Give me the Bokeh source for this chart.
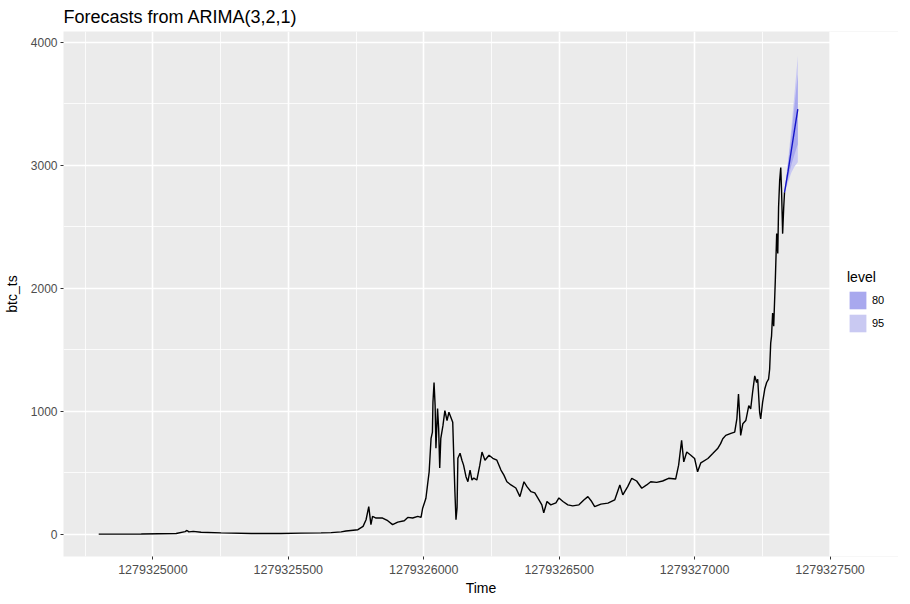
from bokeh.plotting import figure
from bokeh.models import (Range1d, SingleIntervalTicker, FixedTicker, BasicTickFormatter,
                          Legend, LegendItem, ColumnDataSource, BoxAnnotation)
from bokeh.embed import file_html
from bokeh.resources import INLINE

# ---- data ----
START = 1279324800  # ts start (time index of first observation)

hist_day = [0, 157, 286, 319, 326, 333, 349, 378, 452, 563, 673, 747, 821, 858, 895,
            913, 931, 957, 976, 987, 997, 1005, 1011, 1024, 1048, 1067, 1085, 1104,
            1128, 1141, 1159, 1178, 1190, 1196, 1208, 1214, 1220, 1227, 1232, 1234,
            1238, 1242, 1245, 1251, 1255, 1259, 1263, 1271, 1278, 1286, 1293, 1300,
            1307, 1311, 1315, 1319, 1323, 1326, 1334, 1341, 1347, 1356, 1363, 1371,
            1378, 1385, 1396, 1407, 1415, 1426, 1441, 1455, 1470, 1485, 1496, 1507,
            1522, 1540, 1555, 1570, 1581, 1596, 1610, 1621, 1636, 1643, 1655, 1669,
            1688, 1699, 1714, 1732, 1750, 1773, 1791, 1806, 1820, 1831, 1854, 1880,
            1905, 1924, 1935, 1953, 1968, 1986, 2005, 2023, 2038, 2060, 2082, 2104,
            2130, 2141, 2152, 2160, 2171, 2186, 2200, 2211, 2223, 2249, 2267, 2285,
            2296, 2304, 2315, 2334, 2348, 2356, 2362, 2367, 2370, 2378, 2389, 2400,
            2407, 2414, 2422, 2429, 2433, 2440, 2444, 2451, 2459, 2466, 2473, 2477,
            2481, 2484, 2488, 2492, 2498, 2503, 2507, 2510, 2514, 2518, 2521, 2525,
            2529, 2532]
hist_price = [0.06, 0.5, 5, 20, 30, 18, 22, 15, 10, 5, 5, 8, 10, 12, 18,
              25, 30, 36, 63, 117, 224, 77, 144, 131, 131, 109, 77, 98,
              109, 136, 131, 144, 136, 211, 292, 400, 507, 779, 830, 1072,
              1233, 1045, 698, 1021, 860, 537, 779, 884, 1005, 924, 991, 951,
              910, 617, 345, 117, 214, 617, 658, 601, 561, 467, 426, 521,
              440, 456, 440, 561, 668, 601, 642, 617, 601, 521, 480, 426,
              400, 375, 305, 426, 386, 345, 335, 294, 238, 173, 265, 238,
              254, 294, 265, 238, 230, 238, 278, 305, 265, 224, 244, 252,
              278, 400, 319, 386, 454, 432, 373, 400, 426, 421, 432, 454,
              448, 561, 763, 588, 668, 642, 615, 507, 580, 615, 655, 696,
              736, 776, 803, 820, 830, 938, 1139, 938, 803, 897, 924, 1045,
              1018, 1152, 1287, 1233, 1260, 991, 938, 1072, 1180, 1233, 1260, 1341,
              1556, 1610, 1798, 1691, 2068, 2444, 2283, 2659, 2875, 2982, 2794, 2444,
              2659, 2780]

fc_day = [2532, 2545, 2557, 2569, 2581]
fc_mean = [2780, 2950, 3120, 3290, 3456]
fc_lo80 = [2773, 2890, 3000, 3090, 3171]
fc_hi80 = [2787, 3010, 3240, 3490, 3741]
fc_lo95 = [2770, 2860, 2940, 2990, 3024]
fc_hi95 = [2790, 3040, 3300, 3590, 3888]

x_ticks = [1279325000, 1279325500, 1279326000, 1279326500, 1279327000, 1279327500]
x_minor = [1279324750, 1279325250, 1279325750, 1279326250, 1279326750, 1279327250]
level_labels = ["80", "95"]

# ---- build sources ----
hist = ColumnDataSource(dict(t=[START + d for d in hist_day], y=hist_price))
fc = ColumnDataSource(dict(t=[START + d for d in fc_day], mean=fc_mean,
                           lo80=fc_lo80, hi80=fc_hi80, lo95=fc_lo95, hi95=fc_hi95))

FONT = "Liberation Sans"
C80, C95 = "#A8A8EE", "#C9C9F2"

# panel spans X_LO..X_HI (766 px); the frame is widened to hold the legend
X_LO, X_HI = 1279324670, 1279327498
PANEL_W, FRAME_W = 766, 835
X_EXT = X_LO + (X_HI - X_LO) * FRAME_W / PANEL_W

p = figure(frame_width=FRAME_W, frame_height=525, output_backend="svg",
           toolbar_location=None,
           x_range=Range1d(X_LO, X_EXT), y_range=Range1d(-182, 4088),
           title="Forecasts from ARIMA(3,2,1)",
           min_border_left=0, min_border_top=0, min_border_bottom=0,
           min_border_right=0)

p.background_fill_color = "#EBEBEB"
p.border_fill_color = "white"
p.outline_line_color = None

p.title.text_font = FONT
p.title.text_font_size = "18px"
p.title.text_font_style = "normal"
p.title.text_color = "black"
p.title.standoff = 9
p.title.offset = 0

r95 = p.varea(x="t", y1="lo95", y2="hi95", source=fc, fill_color=C95)
r80 = p.varea(x="t", y1="lo80", y2="hi80", source=fc, fill_color=C80)
p.line(x="t", y="y", source=hist, line_color="black", line_width=1.4)
p.line(x="t", y="mean", source=fc, line_color="#1414C8", line_width=1.4)

# axes
p.xaxis.ticker = FixedTicker(ticks=x_ticks, minor_ticks=x_minor)
p.yaxis.ticker = SingleIntervalTicker(interval=1000, num_minor_ticks=2)
p.xaxis.formatter = BasicTickFormatter(use_scientific=False)
p.xaxis.axis_label = "Time"
p.yaxis.axis_label = "btc_ts"
for ax in (p.xaxis, p.yaxis):
    ax.axis_line_color = None
    ax.major_tick_line_color = "#333333"
    ax.major_tick_out = 3
    ax.major_tick_in = 0
    ax.minor_tick_line_color = None
    ax.major_label_text_font = FONT
    ax.major_label_text_color = "#4D4D4D"
    ax.major_label_standoff = 2
    ax.axis_label_text_font = FONT
    ax.axis_label_text_font_size = "14px"
    ax.axis_label_text_font_style = "normal"
    ax.axis_label_text_color = "black"
    ax.axis_label_standoff = 3
p.yaxis.axis_label_standoff = 8
p.xaxis.major_label_standoff = 4
p.xaxis.major_label_text_font_size = "12.5px"
p.yaxis.major_label_text_font_size = "12px"

for g in (p.xgrid, p.ygrid):
    g.grid_line_color = "white"
    g.grid_line_width = 1.6
    g.minor_grid_line_color = "white"
    g.minor_grid_line_width = 0.8

# white cover for the legend strip right of the panel
p.add_layout(BoxAnnotation(left=X_HI, fill_color="white", fill_alpha=1.0,
                           line_alpha=0, level="annotation"))

legend = Legend(items=[LegendItem(label=level_labels[0], renderers=[r80]),
                       LegendItem(label=level_labels[1], renderers=[r95])],
                title="level", location=(784, 222))
legend.title_text_font = FONT
legend.title_text_font_size = "14px"
legend.title_text_font_style = "normal"
legend.title_text_color = "black"
legend.title_standoff = 4
legend.label_text_font = FONT
legend.label_text_font_size = "11px"
legend.label_text_color = "black"
legend.label_standoff = 4
legend.glyph_width = 21
legend.glyph_height = 22
legend.spacing = 1
legend.padding = 6
legend.margin = 0
legend.border_line_color = None
legend.background_fill_color = None
legend.background_fill_alpha = 0
p.add_layout(legend, "center")

open("out.html", "w").write(file_html(p, INLINE))
